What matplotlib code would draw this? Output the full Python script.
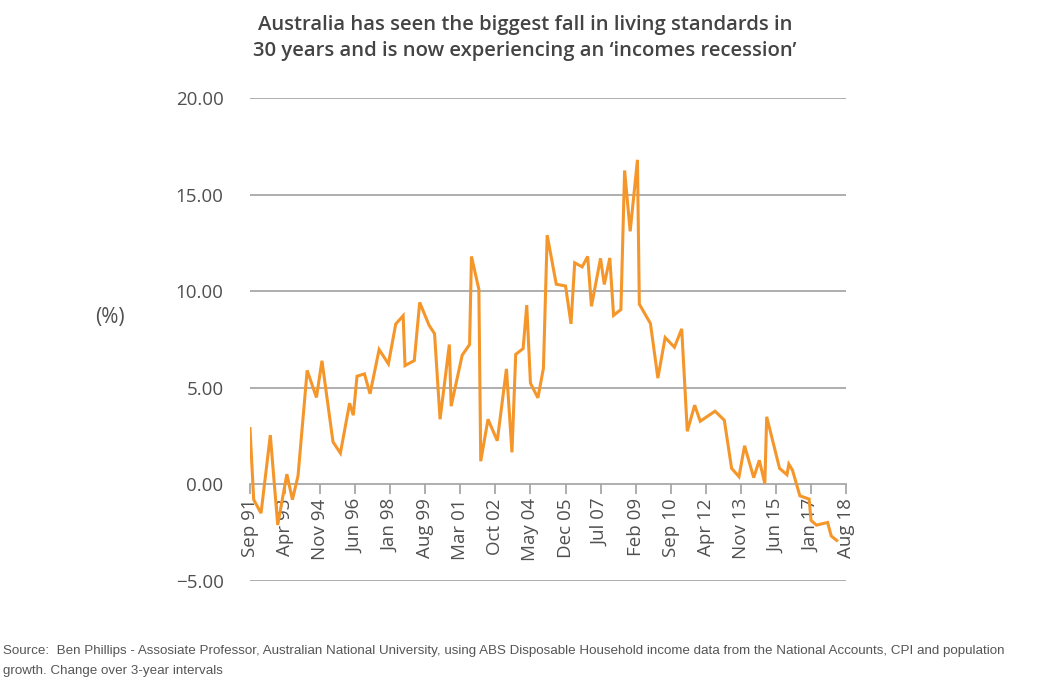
import matplotlib
matplotlib.use("Agg")
import matplotlib.pyplot as plt
import pandas as pd

# ---- data ----
dates = ['1991-09', '1991-11', '1992-03', '1992-08', '1992-12', '1993-05', '1993-08', '1993-11',
         '1994-04', '1994-09', '1994-12', '1995-06', '1995-10', '1996-03', '1996-05', '1996-07',
         '1996-11', '1997-02', '1997-07', '1997-12', '1998-04', '1998-08', '1998-09', '1999-02',
         '1999-05', '1999-10', '2000-01', '2000-04', '2000-09', '2000-10', '2001-04', '2001-08',
         '2001-09', '2002-01', '2002-02', '2002-06', '2002-11', '2003-04', '2003-07', '2003-09',
         '2004-01', '2004-03', '2004-05', '2004-09', '2004-12', '2005-02', '2005-07', '2005-12',
         '2006-03', '2006-05', '2006-09', '2006-12', '2007-02', '2007-07', '2007-09', '2007-12',
         '2008-02', '2008-06', '2008-08', '2008-11', '2009-03', '2009-04', '2009-10', '2010-02',
         '2010-06', '2010-11', '2011-03', '2011-06', '2011-10', '2012-01', '2012-09', '2013-02',
         '2013-06', '2013-10', '2014-01', '2014-06', '2014-09', '2014-12', '2015-01', '2015-08',
         '2015-12', '2016-01', '2016-03', '2016-07', '2016-12', '2017-01', '2017-04', '2017-10',
         '2017-12', '2018-03']
values = [2.89, -0.79, -1.49, 2.55, -2.10, 0.53, -0.79, 0.44,
          5.90, 4.50, 6.40, 2.20, 1.62, 4.20, 3.58, 5.60,
          5.72, 4.69, 6.98, 6.24, 8.30, 8.73, 6.15, 6.41,
          9.42, 8.25, 7.80, 3.37, 7.24, 4.05, 6.69, 7.24,
          11.80, 10.10, 1.20, 3.37, 2.26, 5.98, 1.66, 6.73,
          7.03, 9.28, 5.24, 4.48, 6.01, 12.90, 10.36, 10.27,
          8.31, 11.47, 11.26, 11.80, 9.22, 11.70, 10.35, 11.72,
          8.75, 9.05, 16.25, 13.10, 16.80, 9.33, 8.33, 5.50,
          7.60, 7.10, 8.05, 2.75, 4.10, 3.27, 3.79, 3.32,
          0.83, 0.40, 2.00, 0.35, 1.25, 0.05, 3.50, 0.83,
          0.50, 1.05, 0.74, -0.59, -0.76, -1.86, -2.11, -1.97,
          -2.67, -2.90]
tick_dates = ['1991-09', '1993-04', '1994-11', '1996-06', '1998-01', '1999-08', '2001-03',
              '2002-10', '2004-05', '2005-12', '2007-07', '2009-02', '2010-09', '2012-04',
              '2013-11', '2015-06', '2017-01', '2018-08']
tick_labels = ['Sep 91', 'Apr 93', 'Nov 94', 'Jun 96', 'Jan 98', 'Aug 99', 'Mar 01', 'Oct 02',
               'May 04', 'Dec 05', 'Jul 07', 'Feb 09', 'Sep 10', 'Apr 12', 'Nov 13', 'Jun 15',
               'Jan 17', 'Aug 18']
y_ticks = [-5, 0, 5, 10, 15, 20]

title = ("Australia has seen the biggest fall in living standards in\n"
         "30 years and is now experiencing an \u2018incomes recession\u2019")
source = ("Source:  Ben Phillips - Assosiate Professor, Australian National University, using ABS "
          "Disposable Household income data from the National Accounts, CPI and population\n"
          "growth. Change over 3-year intervals")

FONT = ['Open Sans', 'DejaVu Sans']
TXT = '#505050'
GRID = '#a8a8a8'
ORANGE = '#F5962A'

plt.rcParams['font.family'] = FONT

fig = plt.figure(figsize=(10.37, 6.88), dpi=100)
ax = fig.add_axes([250 / 1037, 1 - 581 / 688, (846 - 250) / 1037, (581 - 98) / 688])

x = pd.to_datetime(dates)
ax.plot(x, values, color=ORANGE, lw=2.2, solid_joinstyle='miter', zorder=3)

ax.set_ylim(-5, 20)
ax.set_xlim(pd.Timestamp('1991-09-01'), pd.Timestamp('2018-08-01'))
ax.set_yticks(y_ticks)
ax.set_yticklabels([f"{v:.2f}".replace('-', '\u2212') for v in y_ticks])
for v in y_ticks:
    if v != 0:
        ax.axhline(v, color=GRID, lw=1.3, zorder=1)

for s in ['top', 'right', 'left']:
    ax.spines[s].set_visible(False)
ax.spines['bottom'].set_position(('data', 0))
ax.spines['bottom'].set_color(GRID)
ax.spines['bottom'].set_linewidth(1.3)

ax.set_xticks(pd.to_datetime(tick_dates))
ax.set_xticklabels(tick_labels, rotation=90, fontsize=13.5, color=TXT)
ax.tick_params(axis='x', direction='out', length=7, width=1.3, color=GRID, pad=3)
ax.tick_params(axis='y', length=0, pad=19, labelsize=13.5, labelcolor=TXT)

fig.text(110 / 1037, 1 - 318 / 688, '(%)', ha='center', va='center', fontsize=15, color=TXT)
fig.text(525 / 1037, 1 - 38 / 688, title, ha='center', va='center', fontsize=14.6,
         fontweight='semibold', color='#444444', linespacing=1.45)
fig.text(3 / 1037, 1 - 661 / 688, source, ha='left', va='center', fontsize=9.6, color='#555555',
         family=['Liberation Sans Narrow', 'Liberation Sans', 'DejaVu Sans'], linespacing=1.85)

fig.savefig('out.png', dpi=100)
